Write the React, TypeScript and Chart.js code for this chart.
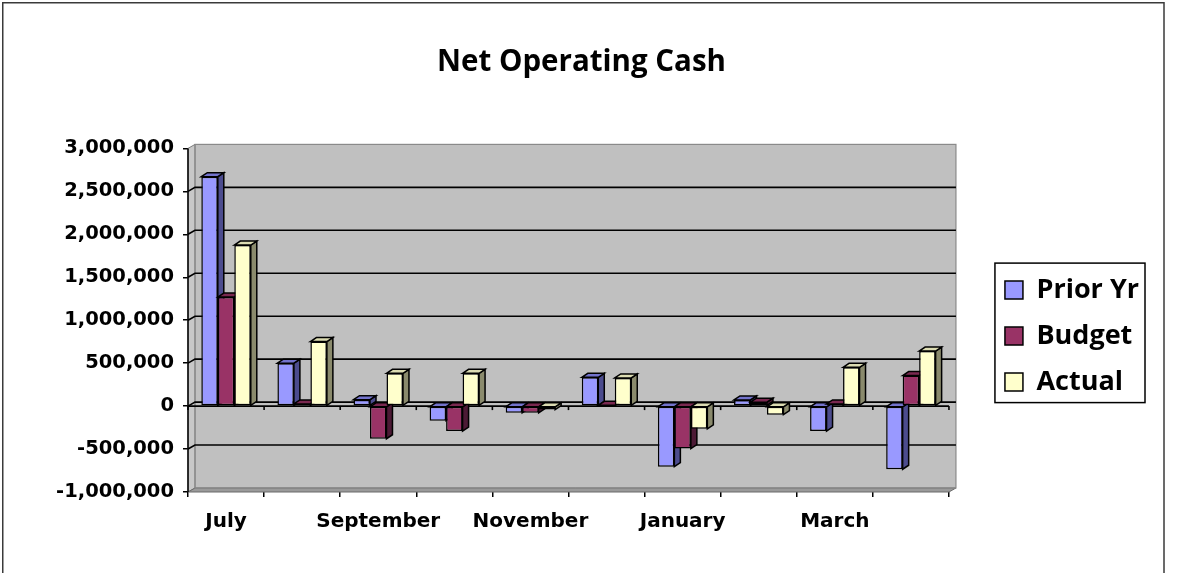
import React, { useEffect, useRef } from "react";
import { Chart, registerables } from "chart.js";

Chart.register(...registerables);

// ---------- data ----------
const categories = [
  "July", "August", "September", "October", "November",
  "December", "January", "February", "March", "April",
];
const shownLabels = ["July", "September", "November", "January", "March"];
const seriesNames = ["Prior Yr", "Budget", "Actual"];
const priorYr = [2670000, 500000, 75000, -170000, -78000, 335000, -705000, 72000, -290000, -735000];
const budget = [1270000, 25000, -380000, -290000, -78000, 5000, -495000, 45000, 25000, 355000];
const actual = [1875000, 752000, 382000, 382000, -40000, 328000, -265000, -100000, 452000, 640000];
const yMin = -1000000;
const yMax = 3000000;
const yStep = 500000;
const chartTitle = "Net Operating Cash";

// ---------- styles ----------
const FRONT = ["#9999FF", "#993366", "#FFFFCC"];
const SIDE = ["#4C4C8E", "#4C1A35", "#8A8A6C"];
const TOPC = ["#7373CC", "#7A2850", "#DCDCB2"];
const DX = 7, DY = 4;   // wall depth
const BDX = 6, BDY = 4; // bar depth

function poly(ctx: CanvasRenderingContext2D, pts: number[][], fill?: string, stroke?: string, lw = 1) {
  ctx.beginPath();
  ctx.moveTo(pts[0][0], pts[0][1]);
  for (let i = 1; i < pts.length; i++) ctx.lineTo(pts[i][0], pts[i][1]);
  ctx.closePath();
  if (fill) { ctx.fillStyle = fill; ctx.fill(); }
  if (stroke) { ctx.strokeStyle = stroke; ctx.lineWidth = lw; ctx.stroke(); }
}

const excel3d = {
  id: "excel3d",
  beforeDraw(chart: any) {
    const { ctx, width, height } = chart;
    ctx.save();
    ctx.fillStyle = "#ffffff";
    ctx.fillRect(0, 0, width, height);
    ctx.strokeStyle = "#3a3a3a";
    ctx.lineWidth = 1.5;
    ctx.strokeRect(2.75, 2.75, 1161.25, height + 40);
    ctx.restore();
  },
  beforeDatasetsDraw(chart: any) {
    const { ctx, chartArea, scales } = chart;
    const L = chartArea.left, R = chartArea.right, T = chartArea.top, B = chartArea.bottom;
    const ys = scales.y, xs = scales.x;
    ctx.save();
    // back wall
    ctx.fillStyle = "#C0C0C0";
    ctx.fillRect(L + DX, T - DY, R - L, B - T);
    // left wall
    poly(ctx, [[L, T], [L + DX, T - DY], [L + DX, B - DY], [L, B]], "#C8C8C8", "#7a7a7a", 1);
    // floor
    poly(ctx, [[L, B], [R, B], [R + DX, B - DY], [L + DX, B - DY]], "#9A9A9A", "#6a6a6a", 1);
    ctx.strokeStyle = "#8a8a8a";
    ctx.lineWidth = 1.2;
    ctx.strokeRect(L + DX, T - DY, R - L, B - T);
    // left axis line
    ctx.strokeStyle = "#000";
    ctx.lineWidth = 1.5;
    ctx.beginPath();
    ctx.moveTo(L, T);
    ctx.lineTo(L, B);
    ctx.stroke();
    // gridlines on back wall
    ctx.strokeStyle = "#000";
    ctx.lineWidth = 1.6;
    ys.ticks.forEach((t: any) => {
      if (t.value <= yMin || t.value >= yMax) return;
      const py = ys.getPixelForValue(t.value);
      ctx.beginPath();
      ctx.moveTo(L, py);
      ctx.lineTo(L + DX, py - DY);
      ctx.lineTo(R + DX, py - DY);
      ctx.stroke();
    });
    // zero category axis in front plane
    const y0 = ys.getPixelForValue(0);
    ctx.beginPath();
    ctx.moveTo(L, y0);
    ctx.lineTo(R, y0);
    ctx.stroke();
    const n = categories.length;
    for (let i = 0; i <= n; i++) {
      let px;
      if (i === 0) px = L;
      else if (i === n) px = R;
      else px = (xs.getPixelForValue(i - 1) + xs.getPixelForValue(i)) / 2;
      ctx.beginPath();
      ctx.moveTo(px, y0);
      ctx.lineTo(px, y0 + 4);
      ctx.stroke();
    }
    ctx.restore();
  },
  beforeDatasetDraw() {
    return false;
  },
  afterDatasetsDraw(chart: any) {
    const { ctx } = chart;
    const metas = seriesNames.map((_, i) => chart.getDatasetMeta(i));
    ctx.save();
    ctx.lineJoin = "miter";
    for (let j = 0; j < categories.length; j++) {
      for (let d = 0; d < metas.length; d++) {
        const el = metas[d].data[j];
        if (!el) continue;
        const p = el.getProps(["x", "y", "base", "width"], true);
        const l = p.x - p.width / 2, r = p.x + p.width / 2;
        const t = Math.min(p.y, p.base), b = Math.max(p.y, p.base);
        poly(ctx, [[r, t], [r + BDX, t - BDY], [r + BDX, b - BDY], [r, b]], SIDE[d], "#000", 1.5);
        poly(ctx, [[l, t], [l + BDX, t - BDY], [r + BDX, t - BDY], [r, t]], TOPC[d], "#000", 1.5);
        el.draw(ctx, chart.chartArea);
      }
    }
    ctx.restore();
  },
  afterDraw(chart: any) {
    const lg = chart.legend;
    if (!lg || !lg.legendHitBoxes || !lg.legendHitBoxes.length) return;
    const hb = lg.legendHitBoxes;
    let minL = Infinity, maxR = -Infinity, minT = Infinity, maxB = -Infinity;
    const { ctx } = chart;
    ctx.save();
    ctx.font = "bold 27px 'Open Sans'";
    hb.forEach((h: any, i: number) => {
      const tw = ctx.measureText(seriesNames[i]).width;
      minL = Math.min(minL, h.left);
      maxR = Math.max(maxR, h.left + 18 + 13.5 + tw);
      minT = Math.min(minT, h.top);
      maxB = Math.max(maxB, h.top + h.height);
    });
    ctx.strokeStyle = "#000";
    ctx.lineWidth = 1.5;
    ctx.strokeRect(minL - 10, minT - 13.5, maxR - minL + 16, maxB - minT + 20.5);
    ctx.restore();
  },
};

export default function App() {
  const ref = useRef<HTMLCanvasElement | null>(null);

  useEffect(() => {
    if (!ref.current) return;
    const chart = new Chart(ref.current, {
      type: "bar",
      data: {
        labels: categories,
        datasets: [priorYr, budget, actual].map((vals, i) => ({
          label: seriesNames[i],
          data: vals,
          backgroundColor: FRONT[i],
          borderColor: "#000000",
          borderWidth: 1.5,
          borderSkipped: false,
          barPercentage: 1,
          categoryPercentage: 0.65,
        })),
      },
      options: {
        animation: false,
        responsive: false,
        devicePixelRatio: 1,
        layout: { padding: { left: 14, right: 32, top: 45, bottom: 0 } },
        plugins: {
          title: {
            display: true,
            text: chartTitle,
            color: "#000",
            font: { family: "'Open Sans', sans-serif", weight: "bold", size: 29.5 },
            padding: { top: 0, bottom: 68 },
          },
          legend: {
            position: "right",
            align: "center",
            title: { display: true, text: "", font: { size: 1 }, padding: { top: 53, bottom: 0 } },
            labels: {
              color: "#000",
              font: { family: "'Open Sans', sans-serif", weight: "bold", size: 27 },
              boxWidth: 18,
              boxHeight: 18,
              padding: 19,
            },
          },
          tooltip: { enabled: false },
        },
        scales: {
          x: {
            grid: { display: true, drawOnChartArea: false, drawTicks: true, tickLength: 5, color: "#000", lineWidth: 1.5 },
            border: { display: false },
            ticks: {
              autoSkip: false,
              maxRotation: 0,
              color: "#000",
              padding: 13,
              font: { family: "'DejaVu Sans', sans-serif", weight: "bold", size: 20 },
              callback: (_v: any, i: number) => (shownLabels.includes(categories[i]) ? categories[i] : ""),
            },
            afterFit: (s: any) => { s.height = 81; },
          },
          y: {
            min: yMin,
            max: yMax,
            grid: { display: true, drawOnChartArea: false, drawTicks: true, tickLength: 5, color: "#000", lineWidth: 1.5 },
            border: { display: false },
            ticks: {
              stepSize: yStep,
              color: "#000",
              padding: 9,
              font: { family: "'DejaVu Sans', sans-serif", weight: "bold", size: 19.5 },
              callback: (v: any) => Number(v).toLocaleString("en-US"),
            },
            afterFit: (s: any) => { s.width = 174; },
          },
          y2: {
            position: "right",
            display: true,
            grid: { display: false },
            border: { display: false },
            ticks: { display: false },
            afterFit: (s: any) => { s.width = 37; },
          },
        },
      },
      plugins: [excel3d],
    } as any);
    return () => chart.destroy();
  }, []);

  return (
    <div style={{ position: "fixed", left: 0, top: 0, width: 1181, height: 573, overflow: "hidden", background: "#fff" }}>
      <canvas ref={ref} width={1181} height={573} style={{ display: "block" }} />
    </div>
  );
}
